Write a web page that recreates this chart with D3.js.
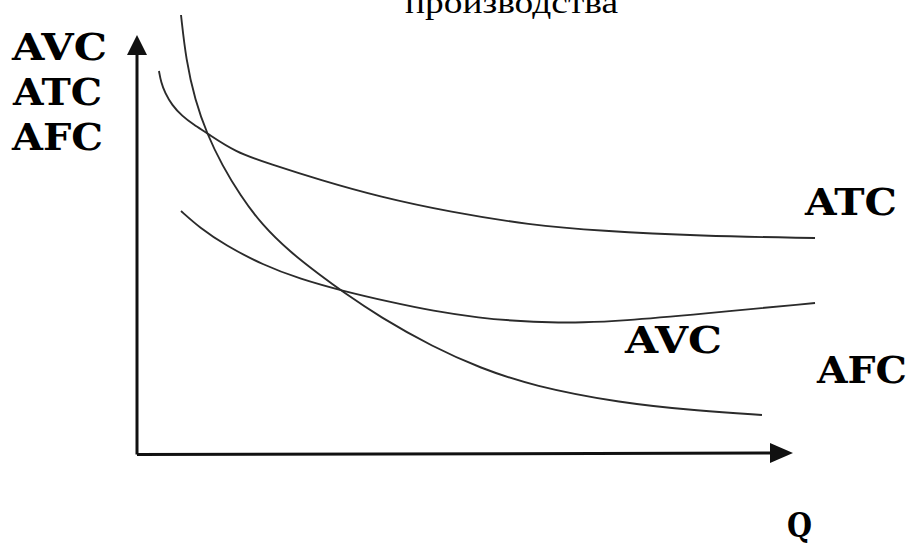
<!DOCTYPE html>
<html>
<head>
<meta charset="utf-8">
<script src="https://cdn.jsdelivr.net/npm/d3@7"></script>
<style>
  html, body { margin: 0; padding: 0; background: #fff; }
  svg { display: block; }
</style>
</head>
<body>
<svg id="chart" width="910" height="545"></svg>
<script>
// ---- data (Q in 0..100 units, cost in 0..100 units) ----
const atcQ = [3.38, 3.69, 4.31, 5.38, 6.92, 8.77, 10.77, 15.08, 20.46, 28.15, 37.38, 48.15, 60.46, 71.23, 86.62, 104.31];
const atcC = [92.07, 89.42, 86.78, 83.89, 81.25, 79.09, 77.16, 72.60, 69.71, 65.87, 61.78, 58.17, 55.05, 53.61, 52.40, 51.92];

const avcQ = [6.77, 9.69, 13.54, 19.38, 25.08, 31.69, 38.92, 45.54, 52.77, 58.46, 63.54, 68.62, 74.31, 86.62, 104.31];
const avcC = [58.41, 54.33, 50.24, 45.43, 42.07, 39.18, 36.54, 34.38, 32.69, 31.97, 31.61, 31.61, 31.97, 33.65, 36.30];

const afcQ = [6.77, 7.54, 8.92, 10.77, 13.08, 15.85, 19.23, 23.54, 28.15, 31.69, 37.38, 45.54, 52.77, 60.92, 74.31, 86.62, 96.15];
const afcC = [105.53, 94.71, 85.10, 76.92, 69.47, 62.26, 55.05, 48.56, 43.03, 38.94, 32.93, 25.72, 20.67, 16.35, 12.26, 10.34, 9.38];

const yAxisLabels = ["AVC", "ATC", "AFC"];
const curveLabels = ["ATC", "AVC", "AFC"];
const xAxisLabel = "Q";
const title = "производства";

// ---- layout ----
const svg = d3.select("#chart");
const x = d3.scaleLinear().domain([0, 100]).range([137, 787]);
const y = d3.scaleLinear().domain([0, 100]).range([454, 38]);

const curveColor = "#2b2b2b";
const line = d3.line()
  .x(d => x(d[0]))
  .y(d => y(d[1]))
  .curve(d3.curveBasis);

const series = [
  { q: atcQ, c: atcC },
  { q: avcQ, c: avcC },
  { q: afcQ, c: afcC }
];

svg.selectAll("path.curve")
  .data(series)
  .join("path")
  .attr("class", "curve")
  .attr("d", s => line(d3.zip(s.q, s.c)))
  .attr("fill", "none")
  .attr("stroke", curveColor)
  .attr("stroke-width", 1.9);

// ---- axes ----
const x0 = x(0), y0 = y(0) - 1;
const xTip = x.range()[1] + 6;
const yTip = 35;

svg.append("line")
  .attr("x1", x0).attr("y1", y0 + 1.5)
  .attr("x2", xTip - 12).attr("y2", y0)
  .attr("stroke", "#111").attr("stroke-width", 3);
svg.append("line")
  .attr("x1", x0).attr("y1", y0 + 1.5)
  .attr("x2", x0).attr("y2", yTip + 12)
  .attr("stroke", "#111").attr("stroke-width", 3);

svg.append("path")
  .attr("d", `M${xTip},${y0} L${xTip - 23},${y0 - 10} L${xTip - 23},${y0 + 10} Z`)
  .attr("fill", "#111");
svg.append("path")
  .attr("d", `M${x0},${yTip} L${x0 - 10},${yTip + 20} L${x0 + 10},${yTip + 20} Z`)
  .attr("fill", "#111");

// ---- text ----
const boldFont = "'DejaVu Serif', 'Liberation Serif', serif";
const titleFont = "'Liberation Serif', 'Times New Roman', serif";

function label(txt, lx, ly, w, size) {
  svg.append("text")
    .attr("x", lx).attr("y", ly)
    .attr("font-family", boldFont)
    .attr("font-weight", "bold")
    .attr("font-size", size)
    .attr("textLength", w)
    .attr("lengthAdjust", "spacingAndGlyphs")
    .attr("fill", "#000")
    .text(txt);
}

// y-axis stacked labels
const yLabelPos = [[12, 60, 95], [13, 105, 89], [12, 150, 91]];
yAxisLabels.forEach((t, i) => label(t, yLabelPos[i][0], yLabelPos[i][1], yLabelPos[i][2], 37));

// curve labels
const curveLabelPos = [[805, 215, 92], [625, 353, 97], [817, 383, 90]];
curveLabels.forEach((t, i) => label(t, curveLabelPos[i][0], curveLabelPos[i][1], curveLabelPos[i][2], 37));

// Q label
label(xAxisLabel, 787, 537, 25, 34);

// title (clipped at top, as in the source)
svg.append("text")
  .attr("x", 405).attr("y", 13)
  .attr("font-family", titleFont)
  .attr("font-size", 32)
  .attr("textLength", 213)
  .attr("lengthAdjust", "spacingAndGlyphs")
  .attr("fill", "#000")
  .text(title);
</script>
</body>
</html>
